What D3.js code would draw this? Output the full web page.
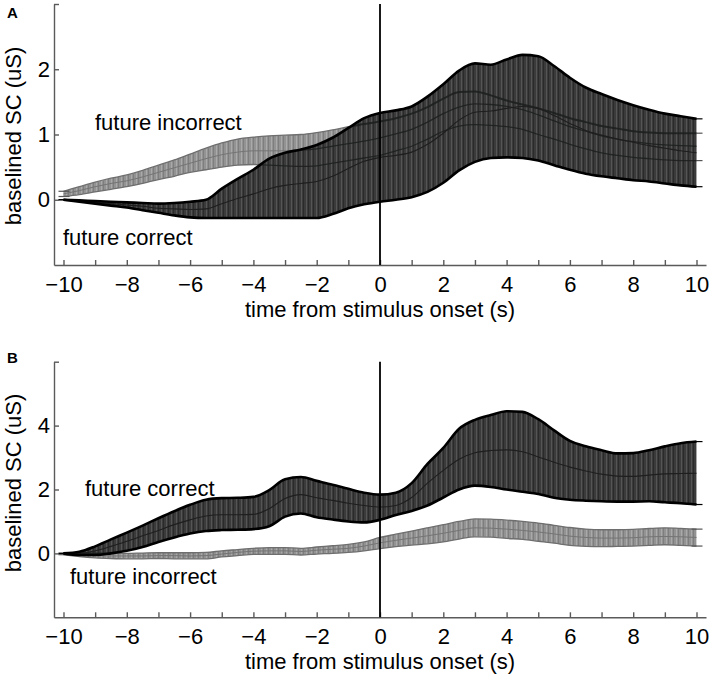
<!DOCTYPE html>
<html><head><meta charset="utf-8">
<script src="https://cdn.jsdelivr.net/npm/d3@7/dist/d3.min.js"></script>
<style>
body{margin:0;background:#fff}
svg{display:block}
text{font-family:"Liberation Sans",Arial,Helvetica,sans-serif}
</style>
</head><body>
<svg id="chart" width="713" height="678"></svg>
<script>
// ---- time grid (s) ----
const timeGrid = [-10,-9.5,-9,-8.5,-8,-7.5,-7,-6.5,-6,-5.5,-5,-4.5,-4,-3.5,-3,-2.5,-2,-1.5,-1,-0.5,0,0.5,1,1.5,2,2.5,3,3.5,4,4.5,5,5.5,6,6.5,7,7.5,8,8.5,9,9.5,10];
const xTickValues = [-10,-9,-8,-7,-6,-5,-4,-3,-2,-1,0,1,2,3,4,5,6,7,8,9,10];
const xTickLabels = [-10,-8,-6,-4,-2,0,2,4,6,8,10];
const yTicksA = [0,1,2,3];
const yLabelsA = [0,1,2];
const yTicksB = [0,2,4,6];
const yLabelsB = [0,2,4];

// ---- Panel A: future correct (dark) ----
const aCorrectUpper = [0,-0.01,-0.02,-0.03,-0.04,-0.05,-0.06,-0.05,-0.03,0.0,0.17,0.32,0.46,0.63,0.72,0.77,0.84,0.95,1.1,1.25,1.33,1.37,1.43,1.58,1.77,1.98,2.09,2.07,2.15,2.22,2.2,2.05,1.87,1.72,1.62,1.53,1.45,1.38,1.32,1.28,1.24];
const aCorrectMean  = [0,-0.02,-0.04,-0.06,-0.08,-0.1,-0.13,-0.14,-0.15,-0.14,-0.06,0.02,0.09,0.17,0.22,0.25,0.28,0.36,0.48,0.59,0.65,0.68,0.73,0.85,1.02,1.22,1.34,1.36,1.4,1.43,1.4,1.29,1.17,1.06,0.99,0.93,0.88,0.83,0.79,0.75,0.72];
const aCorrectLower = [0,-0.03,-0.06,-0.09,-0.12,-0.16,-0.2,-0.24,-0.27,-0.28,-0.28,-0.28,-0.28,-0.28,-0.28,-0.28,-0.28,-0.22,-0.13,-0.07,-0.03,0.0,0.04,0.12,0.26,0.45,0.58,0.64,0.65,0.64,0.6,0.53,0.46,0.4,0.36,0.33,0.3,0.28,0.25,0.22,0.2];
// ---- Panel A: future incorrect (grey) ----
const aIncorrectUpper = [0.13,0.2,0.27,0.33,0.38,0.45,0.53,0.61,0.7,0.79,0.87,0.93,0.96,0.98,0.99,1.0,1.03,1.07,1.12,1.16,1.2,1.25,1.32,1.42,1.55,1.65,1.66,1.6,1.52,1.46,1.4,1.33,1.25,1.19,1.13,1.09,1.05,1.03,1.02,1.02,1.02];
const aIncorrectMean  = [0.09,0.14,0.2,0.25,0.29,0.35,0.42,0.49,0.56,0.63,0.69,0.73,0.75,0.75,0.75,0.76,0.78,0.82,0.86,0.9,0.95,1.01,1.08,1.19,1.32,1.42,1.47,1.46,1.43,1.38,1.3,1.21,1.12,1.05,0.98,0.93,0.89,0.86,0.84,0.83,0.82];
const aIncorrectLower = [0.05,0.08,0.12,0.16,0.2,0.25,0.31,0.36,0.42,0.46,0.5,0.53,0.54,0.53,0.52,0.51,0.52,0.56,0.6,0.64,0.68,0.75,0.82,0.93,1.05,1.13,1.15,1.14,1.12,1.08,1.0,0.93,0.85,0.78,0.72,0.68,0.65,0.63,0.61,0.6,0.6];

// ---- Panel B: future correct (dark) ----
const bCorrectUpper = [0,0.05,0.22,0.44,0.65,0.87,1.1,1.32,1.52,1.68,1.73,1.74,1.77,1.98,2.32,2.39,2.27,2.15,2.02,1.9,1.84,1.9,2.2,2.8,3.3,3.9,4.18,4.33,4.45,4.43,4.2,3.85,3.52,3.35,3.23,3.13,3.14,3.23,3.35,3.45,3.5];
const bCorrectMean  = [0,0,0.08,0.22,0.38,0.55,0.72,0.9,1.05,1.17,1.21,1.21,1.22,1.4,1.72,1.84,1.74,1.66,1.57,1.5,1.45,1.5,1.75,2.2,2.6,2.95,3.15,3.22,3.24,3.18,3.02,2.85,2.7,2.58,2.48,2.42,2.41,2.45,2.49,2.5,2.51];
const bCorrectLower = [0,-0.05,-0.05,0.0,0.08,0.2,0.36,0.5,0.62,0.7,0.73,0.74,0.76,0.85,1.15,1.25,1.13,1.06,1.0,0.97,1.05,1.2,1.33,1.5,1.75,2.0,2.12,2.08,2.0,1.93,1.86,1.74,1.68,1.65,1.63,1.62,1.62,1.63,1.6,1.57,1.53];
// ---- Panel B: future incorrect (grey) ----
const bIncorrectUpper = [0,0,0,0,0,0.01,0.02,0.02,0.02,0.03,0.08,0.12,0.16,0.18,0.18,0.16,0.2,0.24,0.28,0.36,0.5,0.6,0.7,0.8,0.9,1.0,1.08,1.07,1.04,1.0,0.95,0.88,0.81,0.76,0.74,0.74,0.75,0.78,0.8,0.78,0.76];
const bIncorrectMean  = [-0.02,-0.05,-0.07,-0.08,-0.08,-0.08,-0.07,-0.07,-0.08,-0.07,-0.02,0.03,0.07,0.08,0.08,0.06,0.1,0.13,0.16,0.23,0.33,0.41,0.48,0.55,0.63,0.72,0.8,0.79,0.76,0.72,0.67,0.61,0.54,0.5,0.48,0.48,0.49,0.52,0.53,0.52,0.5];
const bIncorrectLower = [-0.04,-0.1,-0.14,-0.16,-0.17,-0.17,-0.16,-0.17,-0.17,-0.17,-0.11,-0.07,-0.03,-0.03,-0.03,-0.05,-0.02,0.0,0.03,0.08,0.15,0.21,0.26,0.3,0.36,0.45,0.52,0.51,0.47,0.44,0.38,0.32,0.25,0.22,0.21,0.22,0.23,0.25,0.27,0.25,0.23];

const svg = d3.select("#chart");
const defs = svg.append("defs");

function stripePattern(id, base, light, dark) {
  const p = defs.append("pattern").attr("id", id).attr("patternUnits", "userSpaceOnUse")
    .attr("width", 5).attr("height", 10);
  p.append("rect").attr("width", 5).attr("height", 10).attr("fill", base);
  p.append("rect").attr("x", 1).attr("width", 1).attr("height", 10).attr("fill", light);
  p.append("rect").attr("x", 3).attr("width", 1).attr("height", 10).attr("fill", dark);
}
stripePattern("darkStripe", "#3b3b3b", "#555555", "#2a2a2a");
stripePattern("greyStripe", "#939393", "#aaaaaa", "#7e7e7e");

const x = d3.scaleLinear().domain([-10.3, 10.3]).range([54, 706]);

function drawPanel(cfg) {
  const y = d3.scaleLinear().domain(cfg.yDomain).range(cfg.yRange);
  const g = svg.append("g");
  const rows = (up, mid, lo) => timeGrid.map((t, i) => ({t, up: up[i], mid: mid[i], lo: lo[i]}));
  const dark = rows(cfg.cUp, cfg.cMid, cfg.cLo);
  const grey = rows(cfg.iUp, cfg.iMid, cfg.iLo);
  const curve = d3.curveMonotoneX;
  const area = d3.area().x(d => x(d.t)).y0(d => y(d.lo)).y1(d => y(d.up)).curve(curve);
  const line = key => d3.line().x(d => x(d.t)).y(d => y(d[key])).curve(curve);

  function caps(data, color, w) {
    const ends = [data[0], data[data.length - 1]];
    ends.forEach(d => {
      ["up", "lo"].forEach(k => {
        g.append("line").attr("x1", x(d.t) - 5).attr("x2", x(d.t) + 6)
          .attr("y1", y(d[k])).attr("y2", y(d[k]))
          .attr("stroke", color).attr("stroke-width", w);
      });
    });
  }

  // grey band
  g.append("path").datum(grey).attr("d", area).attr("fill", "url(#greyStripe)");
  ["up", "lo"].forEach(k => g.append("path").datum(grey).attr("d", line(k))
    .attr("fill", "none").attr("stroke", "#6e6e6e").attr("stroke-width", 1.3));
  g.append("path").datum(grey).attr("d", line("mid"))
    .attr("fill", "none").attr("stroke", "#747474").attr("stroke-width", 1);
  caps(grey, "#555", 1.2);

  // dark band
  const clipId = "clip" + cfg.id;
  defs.append("clipPath").attr("id", clipId).append("path").datum(dark).attr("d", area);
  g.append("path").datum(dark).attr("d", area).attr("fill", "url(#darkStripe)");
  // grey lines visible through dark band
  const inner = g.append("g").attr("clip-path", `url(#${clipId})`);
  ["up", "mid", "lo"].forEach(k => inner.append("path").datum(grey).attr("d", line(k))
    .attr("fill", "none").attr("stroke", "#1c1f1f").attr("stroke-width", k === "up" ? 2 : 1.3)
    .attr("opacity", 0.85));
  g.append("path").datum(dark).attr("d", line("mid"))
    .attr("fill", "none").attr("stroke", "#1e1e1e").attr("stroke-width", 1.1);
  ["up", "lo"].forEach(k => g.append("path").datum(dark).attr("d", line(k))
    .attr("fill", "none").attr("stroke", "#000").attr("stroke-width", 2.6));
  caps(dark, "#000", 1.2);

  // axes
  const yBottom = cfg.yRange[0];
  const xAxis = d3.axisBottom(x).tickValues(xTickValues)
    .tickFormat(d => xTickLabels.includes(d) ? d3.format("d")(d) : "")
    .tickSizeInner(-5).tickSizeOuter(0).tickPadding(11);
  const gx = g.append("g").attr("transform", `translate(0,${yBottom})`).call(xAxis);
  const yAxis = d3.axisLeft(y).tickValues(cfg.yTicks)
    .tickFormat(d => cfg.yLabels.includes(d) ? d3.format("d")(d) : "")
    .tickSizeInner(-5).tickSizeOuter(0).tickPadding(4);
  const gy = g.append("g").attr("transform", `translate(54,0)`).call(yAxis);
  [gx, gy].forEach(a => {
    a.selectAll("path,line").attr("stroke", "#5a5a5a").attr("stroke-width", 1.4);
    a.selectAll("text").attr("fill", "#000").attr("font-size", 22)
      .attr("font-family", '"Liberation Sans",Arial,Helvetica,sans-serif');
  });

  // onset line
  g.append("line").attr("x1", x(0)).attr("x2", x(0))
    .attr("y1", y(cfg.yDomain[1])).attr("y2", yBottom)
    .attr("stroke", "#000").attr("stroke-width", 1.8);

  // axis labels
  g.append("text").attr("x", x(0)).attr("y", cfg.xLabelY).attr("text-anchor", "middle")
    .attr("font-size", 22).text("time from stimulus onset (s)");
  g.append("text").attr("transform", `translate(21,${cfg.yLabelCenter}) rotate(-90)`)
    .attr("text-anchor", "middle").attr("font-size", 22).text("baselined SC (uS)");
  // panel letter
  g.append("text").attr("x", 7).attr("y", cfg.letterY).attr("font-size", 15)
    .attr("font-weight", "bold").text(cfg.letter);
  // series labels
  cfg.labels.forEach(l => g.append("text").attr("x", l.x).attr("y", l.y)
    .attr("font-size", 22).text(l.text));
}

drawPanel({
  id: "A", letter: "A", letterY: 18,
  yDomain: [-1, 3], yRange: [265, 4], yTicks: yTicksA, yLabels: yLabelsA,
  cUp: aCorrectUpper, cMid: aCorrectMean, cLo: aCorrectLower,
  iUp: aIncorrectUpper, iMid: aIncorrectMean, iLo: aIncorrectLower,
  xLabelY: 317, yLabelCenter: 136,
  labels: [{text: "future incorrect", x: 95, y: 130}, {text: "future correct", x: 63, y: 245}]
});
drawPanel({
  id: "B", letter: "B", letterY: 363,
  yDomain: [-2, 6], yRange: [617.3, 361.7], yTicks: yTicksB, yLabels: yLabelsB,
  cUp: bCorrectUpper, cMid: bCorrectMean, cLo: bCorrectLower,
  iUp: bIncorrectUpper, iMid: bIncorrectMean, iLo: bIncorrectLower,
  xLabelY: 669, yLabelCenter: 483,
  labels: [{text: "future correct", x: 85, y: 496}, {text: "future incorrect", x: 70, y: 584}]
});
</script>
</body></html>
